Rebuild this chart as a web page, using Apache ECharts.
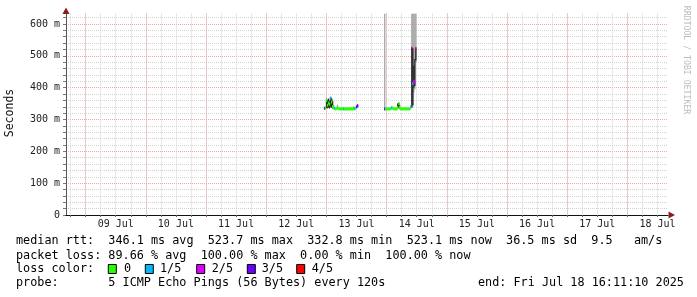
<!DOCTYPE html>
<html><head><meta charset="utf-8">
<script src="https://cdn.jsdelivr.net/npm/echarts@6/dist/echarts.min.js"></script>
<style>html,body{margin:0;padding:0;background:#fff}#c{width:697px;height:297px}</style>
</head><body><div id="c"></div>
<script>
// x values are hours since 2025-07-08 00:00 (local)
const xStart = 16.186, xEnd = 256.186;
const sixHourTicks = [18,24,30,36,42,48,54,60,66,72,78,84,90,96,102,108,114,120,126,132,138,144,150,156,162,168,174,180,186,192,198,204,210,216,222,228,234,240,246,252];
const midnightTicks = [24,48,72,96,120,144,168,192,216,240];
const dayLabelPos = [36,60,84,108,132,156,180,204,228,252];
const dayLabels = ['09 Jul','10 Jul','11 Jul','12 Jul','13 Jul','14 Jul','15 Jul','16 Jul','17 Jul','18 Jul'];
const yMax = 633;
const yMinorTicks = [0,20,40,60,80,100,120,140,160,180,200,220,240,260,280,300,320,340,360,380,400,420,440,460,480,500,520,540,560,580,600,620];
const yMajorTicks = [0,100,200,300,400,500,600];
const yLabels = ['0','100 m','200 m','300 m','400 m','500 m','600 m'];

// segment 1 (12/13 Jul)
const seg1Times  = [119.0,119.4,119.8,120.2,120.6,121.0,121.4,121.8,122.2,122.6,123.0,123.4,123.8,124.2,124.6,125.0,125.4,125.8,126.2,126.6,127.0,127.4,127.8,128.2,128.6,129.0,129.4,129.8,130.2,130.6,131.0,131.4,131.8,132.2];
const seg1Median = [335,336,360,345,352,348,367,355,340,336,335,334,335,336,334,334,333,334,333,334,333,333,334,333,333,334,333,334,333,335,334,335,340,343];
const seg1Loss   = [3,0,0,0,0,0,1,0,0,0,1,0,0,0,0,0,0,0,0,1,0,0,0,0,0,0,0,0,0,0,1,0,3,3];
const seg1SmokeLo= [333,334,335,334,336,334,345,336,334,333,333,332,333,333,332,332,331,332,331,332,331,331,332,331,331,332,331,332,331,333,332,333,336,338];
const seg1SmokeHi= [337,338,368,362,366,360,372,368,362,345,337,336,337,346,336,336,335,336,335,336,335,335,336,335,335,336,335,336,335,342,336,337,345,346];
const seg1CoreLo = [null,null,336,336,338,335,340,337,335,null,null,null,null,null,null,null,null,null,null,null,null,null,null,null,null,null,null,null,null,null,null,null,null,null];
const seg1CoreHi = [null,null,364,360,365,358,371,366,358,null,null,null,null,null,null,null,null,null,null,null,null,null,null,null,null,null,null,null,null,null,null,null,null,null];

// segment 2 (13/14 Jul)
const seg2Times  = [143.0,143.4,143.8,144.2,144.6,145.0,145.4,145.8,146.2,146.6,147.0,147.4,147.8,148.2,148.6,149.0,149.4,149.8,150.2,150.6,151.0,151.4,151.8,152.2,152.6,153.0,153.4,153.8,154.2,154.6,155.0,155.4];
const seg2Median = [333,333,334,333,334,333,334,337,335,333,334,333,334,338,350,336,333,334,333,334,333,334,333,334,333,334,339,523.7,412,420,416,523.1];
const seg2Loss   = [3,0,0,0,0,0,0,1,0,0,0,0,0,0,0,0,0,0,0,0,0,0,0,0,0,0,1,3,1,2,2,4];
const seg2SmokeLo= [333,331,332,331,332,331,332,334,333,331,332,331,332,334,334,333,331,332,331,332,331,332,331,332,331,332,335,336,340,385,395,480];
const seg2SmokeHi= [633,335,336,335,336,335,336,340,337,335,336,335,336,352,353,346,335,336,335,336,335,336,335,336,335,336,345,633,633,633,633,633];
const seg2CoreLo = [null,null,null,null,null,null,null,null,null,null,null,null,null,336,338,null,null,null,null,null,null,null,null,null,null,null,null,338,345,400,405,485];
const seg2CoreHi = [null,null,null,null,null,null,null,null,null,null,null,null,null,350,352,null,null,null,null,null,null,null,null,null,null,null,null,524,524,470,490,524];

const lossLabels = ['0','1/5','2/5','3/5','4/5'];
const lossColors = ['#26ff00','#00b8ff','#dd00ff','#6600ff','#ff0000'];
const STEP = 0.4;

const rows = [];
[[seg1Times,seg1Median,seg1Loss,seg1SmokeLo,seg1SmokeHi,seg1CoreLo,seg1CoreHi],
 [seg2Times,seg2Median,seg2Loss,seg2SmokeLo,seg2SmokeHi,seg2CoreLo,seg2CoreHi]].forEach(function(s){
  for (let i = 0; i < s[0].length; i++) {
    rows.push({t:s[0][i], med:s[1][i], loss:s[2][i], lo:s[3][i], hi:s[4][i], clo:s[5][i], chi:s[6][i]});
  }
});
const data = rows.map(r => [r.t, r.med]);

function renderItem(params, api) {
  const r = rows[params.dataIndex];
  const x0 = api.coord([r.t, r.med])[0];
  const x1 = api.coord([r.t + STEP, r.med])[0];
  const w = Math.max(1, x1 - x0) + 0.3;
  const children = [];
  if (r.lo != null && r.hi != null) {
    const a = api.coord([r.t, r.hi]), b = api.coord([r.t, r.lo]);
    children.push({type:'rect', shape:{x:x0, y:a[1], width:w, height:b[1]-a[1]}, style:{fill:'#a4a4a4'}, z2:1});
  }
  if (r.clo != null && r.chi != null) {
    const a = api.coord([r.t, r.chi]), b = api.coord([r.t, r.clo]);
    children.push({type:'rect', shape:{x:x0, y:a[1], width:w, height:b[1]-a[1]}, style:{fill:'#262626'}, z2:2});
  }
  const ym = api.coord([r.t, r.med])[1];
  children.push({type:'rect', shape:{x:x0, y:ym - 1.5, width:w, height:3}, style:{fill:lossColors[r.loss]}, z2:4});
  return {type:'group', children:children};
}

const mono = "'DejaVu Sans Mono', monospace";
const chart = echarts.init(document.getElementById('c'), null, {renderer:'canvas'});
const gridLeft = 66, gridTop = 13.5, gridRight = 29, gridBottom = 82;

const txt = (text, x, y, extra) => Object.assign({type:'text', x:x, y:y, silent:true,
  style:Object.assign({text:text, font:'11.8px ' + mono, fill:'#000', verticalAlign:'middle', textVerticalAlign:'middle'}, extra || {})});

const graphics = [
  {type:'polygon', shape:{points:[[62.5,14],[69.5,14],[66,7.5]]}, style:{fill:'#8b1c1c'}, silent:true, z:10},
  {type:'polygon', shape:{points:[[668.5,211.5],[668.5,218.5],[675,215]]}, style:{fill:'#8b1c1c'}, silent:true, z:10},
  txt('median rtt:  346.1 ms avg  523.7 ms max  332.8 ms min  523.1 ms now  36.5 ms sd  9.5   am/s', 16, 241),
  txt('packet loss: 89.66 % avg  100.00 % max  0.00 % min  100.00 % now', 16, 255.5),
  txt('loss color:', 16, 269),
  txt('probe:       5 ICMP Echo Pings (56 Bytes) every 120s', 16, 283.3),
  txt('end: Fri Jul 18 16:11:10 2025', 478, 283.3),
  {type:'text', x:10, y:113, rotation:Math.PI/2, silent:true,
   style:{text:'Seconds', font:'11.5px ' + mono, fill:'#111', align:'center', verticalAlign:'middle', textAlign:'center', textVerticalAlign:'middle'}},
  {type:'text', x:686, y:60, rotation:-Math.PI/2, silent:true,
   style:{text:'RRDTOOL / TOBI OETIKER', font:'8.2px ' + mono, fill:'#bcbcbc', align:'center', verticalAlign:'middle', textAlign:'center', textVerticalAlign:'middle'}}
];
const boxX = [108.3, 145.3, 196.7, 247.3, 296.7];
const boxLabelX = [124, 160, 211.7, 261.7, 311.7];
lossLabels.forEach(function(l, i){
  graphics.push({type:'rect', shape:{x:boxX[i], y:264.5, width:8, height:9}, style:{fill:lossColors[i], stroke:'#000', lineWidth:1}, silent:true});
  graphics.push(txt(l, boxLabelX[i], 269));
});

chart.setOption({
  animation:false,
  backgroundColor:'#ffffff',
  grid:{left:gridLeft, top:gridTop, right:gridRight, bottom:gridBottom, containLabel:false, outerBoundsMode:'none'},
  xAxis:[
    {type:'value', position:'bottom', min:xStart, max:xEnd, z:3,
     axisLine:{show:true, onZero:false, lineStyle:{color:'#111', width:1}},
     axisTick:{show:true, customValues:sixHourTicks, length:2, lineStyle:{color:'#666'}},
     axisLabel:{show:false},
     splitLine:{show:true, lineStyle:{color:'#d2d2d2', width:1, type:[1,1]}}},
    {type:'value', position:'bottom', min:xStart, max:xEnd, z:3,
     axisLine:{show:false, onZero:false},
     axisTick:{show:false, customValues:midnightTicks},
     axisLabel:{show:true, customValues:dayLabelPos, margin:4, fontFamily:mono, fontSize:10, color:'#222',
       formatter:function(v){ const i = dayLabelPos.indexOf(Math.round(v)); return i >= 0 ? dayLabels[i] : ''; }},
     splitLine:{show:true, lineStyle:{color:'#eeaaaa', width:1, type:[1,1]}}}
  ],
  yAxis:[
    {type:'value', position:'left', min:0, max:yMax,
     axisLine:{show:true, onZero:false, lineStyle:{color:'#555'}},
     axisTick:{show:true, customValues:yMinorTicks, length:3, lineStyle:{color:'#777'}},
     axisLabel:{show:false},
     splitLine:{show:true, lineStyle:{color:'#d2d2d2', width:1, type:[1,1]}}},
    {type:'value', position:'left', offset:0, min:0, max:yMax,
     axisLine:{show:false, onZero:false},
     axisTick:{show:false, customValues:yMajorTicks},
     axisLabel:{show:true, customValues:yMajorTicks, margin:6, fontFamily:mono, fontSize:10, color:'#222',
       formatter:function(v){ const i = yMajorTicks.indexOf(Math.round(v)); return i >= 0 ? yLabels[i] : ''; }},
     splitLine:{show:true, lineStyle:{color:'#eeaaaa', width:1, type:[1,1]}}}
  ],
  series:[{
    type:'custom', xAxisIndex:0, yAxisIndex:0, z:5, clip:true, silent:true,
    renderItem:renderItem, encode:{x:0, y:1}, data:data
  }],
  graphic:graphics
});
</script></body></html>
